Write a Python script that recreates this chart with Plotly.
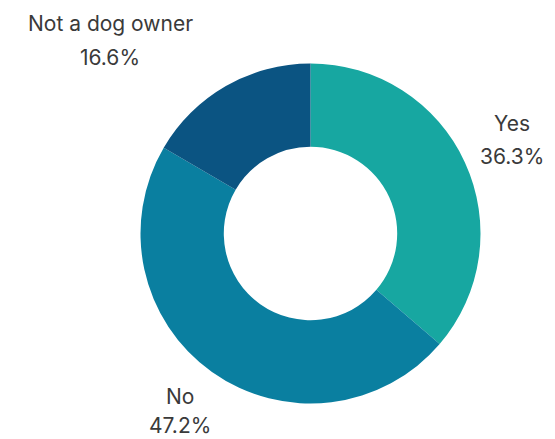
import plotly.graph_objects as go

labels = ["Yes", "No", "Not a dog owner"]
values = [36.3, 47.2, 16.6]
colors = ["#17a7a1", "#0a7fa0", "#0b5482"]

W, H = 555, 439
OFF = 8  # page body margin offset
cx, cy, r = 310.5 - OFF, 233.5 - OFF, 170

fig = go.Figure(go.Pie(
    labels=labels, values=values, hole=0.51, sort=False, direction="clockwise",
    rotation=0, textinfo="none", hoverinfo="label+percent",
    marker=dict(colors=colors, line=dict(width=0)),
    domain=dict(x=[(cx - r) / W, (cx + r) / W], y=[(H - cy - r) / H, (H - cy + r) / H]),
))

# label positions in page pixels: (x center, name line center y, value line center y)
pos = {"Yes": (512, 124, 156), "No": (180, 396, 425), "Not a dog owner": (110, 24, 57)}
font = dict(family="Inter, Roboto, Arial, sans-serif", size=21, color="#3a3a3a")
anns = []
for lab, val in zip(labels, values):
    x, y1, y2 = pos[lab]
    for txt, yy in ((lab, y1), (f"{val:.1f}%", y2)):
        anns.append(dict(text=txt, x=(x - OFF) / W, y=1 - (yy - OFF) / H,
                         xref="paper", yref="paper", showarrow=False,
                         xanchor="center", yanchor="middle", font=font))

fig.update_layout(width=W, height=H, margin=dict(l=0, r=0, t=0, b=0),
                  showlegend=False, paper_bgcolor="white", plot_bgcolor="white",
                  annotations=anns)
fig.write_html("out.html")
